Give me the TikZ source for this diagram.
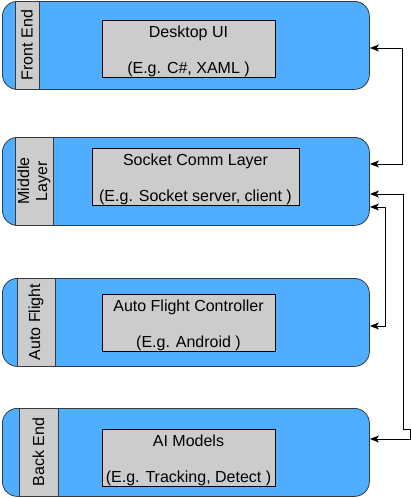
\documentclass[tikz,border=0pt]{standalone}
\usepackage{fontspec}
\setmainfont{Liberation Sans}
\usetikzlibrary{arrows.meta}
\definecolor{layerblue}{HTML}{4FAEFF}
\definecolor{boxgray}{HTML}{CCCCCC}
\definecolor{edgegray}{HTML}{36393D}
\newcommand{\toplift}{\rule{0pt}{17.6pt}}
\begin{document}
\begin{tikzpicture}[x=1pt,y=-1pt,
  layer/.style={draw=edgegray, fill=layerblue, rounded corners=15pt, line width=0.8pt,
    minimum width=367pt, minimum height=88pt, inner sep=0pt, anchor=north west},
  side/.style={draw=edgegray, fill=boxgray, line width=0.6pt, rotate=90, inner sep=0pt,
    minimum width=88pt, align=center, font=\fontsize{16}{18}\selectfont},
  inbox/.style={draw=black, fill=boxgray, line width=0.7pt, inner sep=0pt,
    minimum height=55pt, align=center, font=\fontsize{16}{18}\selectfont},
  conn/.style={black, line width=0.8pt, {Stealth[length=9pt,width=7pt,inset=2.5pt]}-{Stealth[length=9pt,width=7pt,inset=2.5pt]}}
]
\useasboundingbox (0,0) rectangle (411,498);
% layers
\node[layer] (b1) at (2,1) {};
\node[layer] (b2) at (2,137) {};
\node[layer] (b3) at (2,278) {};
\node[layer] (b4) at (2,408) {};
% side labels
\node[side, minimum height=24pt] (s1) at (27,45) {Front End};
\node[side, minimum height=38pt] (s2) at (34,181) {Middle\\Layer};
\node[side, minimum height=38pt] (s3) at (36,322) {Auto Flight};
\node[side, minimum height=39pt] (s4) at (38.5,452) {Back End};
% inner boxes
\node[inbox, minimum width=173pt] (i1) at (188.5,48.5) {\toplift Desktop UI\\[18pt](E.g. C\#, XAML )};
\node[inbox, minimum width=207pt] (i2) at (195.5,176.5) {\toplift Socket Comm Layer\\[18pt](E.g. Socket server, client )};
\node[inbox, minimum width=173pt] (i3) at (188.5,322.5) {\toplift Auto Flight Controller\\[18pt](E.g. Android )};
\node[inbox, minimum width=173pt] (i4) at (188.5,457.5) {\toplift AI Models\\[18pt](E.g. Tracking, Detect )};
% connector end points
\coordinate (a1) at (370,48);
\coordinate (a2) at (370,164);
\coordinate (a3) at (370,194);
\coordinate (a4) at (370,207);
\coordinate (a5) at (370,326);
\coordinate (a6) at (370,439);
\draw[conn] (a1) -- ++(32,0) |- (a2);
\draw[conn] (a3) -- ++(33,0) -- ++(0,235) -- ++(7,0) |- (a6);
\draw[conn] (a4) -- ++(15,0) |- (a5);
\end{tikzpicture}
\end{document}
